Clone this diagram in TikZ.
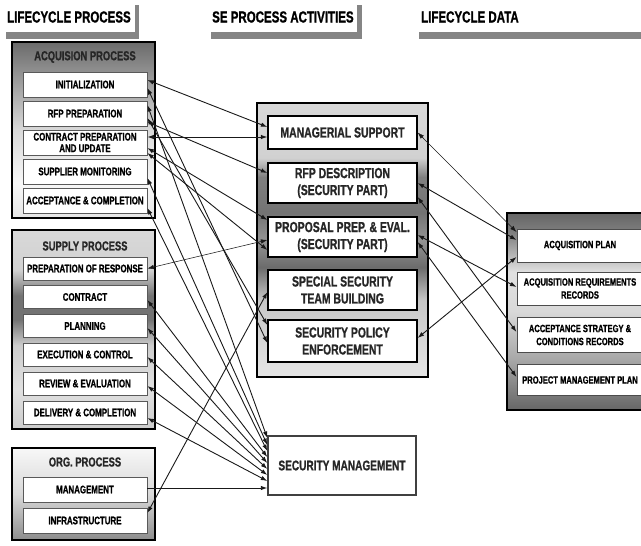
\documentclass[tikz,border=0pt]{standalone}
\usepackage{fontspec}
\usetikzlibrary{arrows.meta}
\newfontfamily\cf{Liberation Sans}[FakeStretch=0.72, BoldFeatures={FakeBold=1}]

% vertical gray shadings for the group panels (25bp = bottom edge, 75bp = top edge)
\pgfdeclareverticalshading{acqsh}{100bp}{rgb(0bp)=(.9,.9,.9); rgb(25bp)=(.9,.9,.9); rgb(35bp)=(.97,.97,.97); rgb(50bp)=(.85,.85,.85); rgb(67.5bp)=(.55,.55,.55); rgb(75bp)=(.42,.42,.42); rgb(100bp)=(.42,.42,.42)}
\pgfdeclareverticalshading{supsh}{100bp}{rgb(0bp)=(.8,.8,.8); rgb(25bp)=(.8,.8,.8); rgb(35bp)=(.88,.88,.88); rgb(46bp)=(.8,.8,.8); rgb(52.5bp)=(.45,.45,.45); rgb(58.5bp)=(.45,.45,.45); rgb(65bp)=(.82,.82,.82); rgb(75bp)=(.85,.85,.85); rgb(100bp)=(.85,.85,.85)}
\pgfdeclareverticalshading{orgsh}{100bp}{rgb(0bp)=(.55,.55,.55); rgb(25bp)=(.55,.55,.55); rgb(50bp)=(.85,.85,.85); rgb(75bp)=(.97,.97,.97); rgb(100bp)=(.97,.97,.97)}
\pgfdeclareverticalshading{midsh}{100bp}{rgb(0bp)=(.9,.9,.9); rgb(25bp)=(.9,.9,.9); rgb(39bp)=(.78,.78,.78); rgb(45bp)=(.42,.42,.42); rgb(50bp)=(.58,.58,.58); rgb(55bp)=(.45,.45,.45); rgb(61.5bp)=(.5,.5,.5); rgb(65bp)=(.82,.82,.82); rgb(75bp)=(.85,.85,.85); rgb(100bp)=(.85,.85,.85)}
\pgfdeclareverticalshading{datsh}{100bp}{rgb(0bp)=(.4,.4,.4); rgb(25bp)=(.4,.4,.4); rgb(37.5bp)=(.65,.65,.65); rgb(50bp)=(.85,.85,.85); rgb(60bp)=(.88,.88,.88); rgb(70bp)=(.5,.5,.5); rgb(75bp)=(.4,.4,.4); rgb(100bp)=(.4,.4,.4)}

\tikzset{
  grp/.style={draw=black, line width=2.4pt, shade, inner sep=0pt},
  lbox/.style={draw=black!65, line width=0.8pt, fill=white, minimum width=124pt,
    minimum height=25pt, inner sep=0pt, align=center,
    font=\cf\bfseries\fontsize{11}{11.5}\selectfont},
  mbox/.style={draw=black, line width=1.3pt, fill=white, minimum width=149pt,
    minimum height=40pt, inner sep=0pt, align=center, text=black!85,
    font=\cf\bfseries\fontsize{14.5}{17}\selectfont},
  rbox/.style={draw=black!70, line width=1pt, fill=white, minimum width=126pt,
    minimum height=33pt, inner sep=0pt, align=center,
    font=\cf\bfseries\fontsize{10.5}{13}\selectfont},
  gtitle/.style={font=\cf\bfseries\fontsize{13}{14}\selectfont, text=black!85},
  hdr/.style={anchor=west, inner sep=0pt, font=\cf\bfseries\fontsize{16}{18}\selectfont},
  hbar/.style={fill=black!48},
  link/.style={{Latex[length=6.5pt,width=4.5pt]}-{Latex[length=6.5pt,width=4.5pt]},
    line width=0.9pt, black!90},
  onelink/.style={-{Latex[length=6.5pt,width=4.5pt]}, line width=0.9pt, black!90},
  thinlink/.style={link, line width=0.55pt},
}

\begin{document}
\begin{tikzpicture}[x=1pt, y=-1pt]
\useasboundingbox (0,0) rectangle (641,546);
\clip (0,0) rectangle (641,546);

% column headers with their L-shaped underlines
\fill[hbar] (6,32) rectangle (139,39);
\fill[hbar] (135,5) rectangle (139,39);
\node[hdr] (h1) at (7,17) {LIFECYCLE PROCESS};
\fill[hbar] (211,32) rectangle (362,39);
\fill[hbar] (357,5) rectangle (362,39);
\node[hdr] (h2) at (212,17) {SE PROCESS ACTIVITIES};
\fill[hbar] (419,32) rectangle (650,39);
\node[hdr] (h3) at (421,17) {LIFECYCLE DATA};

% acquisition process
\node[grp, shading=acqsh, minimum width=143pt, minimum height=176pt] (acq) at (83.5,130) {};
\node[gtitle] (acqt) at (85,57) {ACQUISION PROCESS};
\node[lbox] (init) at (85,84.5) {INITIALIZATION};
\node[lbox] (rfpp) at (85,113.5) {RFP PREPARATION};
\node[lbox] (cprep) at (85,142.5) {CONTRACT PREPARATION\\AND UPDATE};
\node[lbox] (supmon) at (85,171.5) {SUPPLIER MONITORING};
\node[lbox] (accept) at (85,200.5) {ACCEPTANCE \& COMPLETION};

% supply process
\node[grp, shading=supsh, minimum width=143pt, minimum height=199pt] (sup) at (83.5,329.5) {};
\node[gtitle] (supt) at (85,246) {SUPPLY PROCESS};
\node[lbox, minimum height=23pt] (prep) at (85,268.5) {PREPARATION OF RESPONSE};
\node[lbox, minimum height=23pt] (contract) at (85,297) {CONTRACT};
\node[lbox, minimum height=23pt] (planning) at (85,326) {PLANNING};
\node[lbox, minimum height=23pt] (exec) at (85,354.5) {EXECUTION \& CONTROL};
\node[lbox, minimum height=23pt] (review) at (85,383.5) {REVIEW \& EVALUATION};
\node[lbox, minimum height=23pt] (delivery) at (85,412.5) {DELIVERY \& COMPLETION};

% organizational process
\node[grp, shading=orgsh, minimum width=143pt, minimum height=92pt] (org) at (83.5,494) {};
\node[gtitle] (orgt) at (85,462) {ORG. PROCESS};
\node[lbox] (mgmt) at (85,489.5) {MANAGEMENT};
\node[lbox] (infra) at (85,520.5) {INFRASTRUCTURE};

% SE process activities
\node[grp, shading=midsh, minimum width=171pt, minimum height=274pt] (mid) at (342.5,240) {};
\node[mbox, minimum height=33pt] (ms) at (342.5,132.5) {MANAGERIAL SUPPORT};
\node[mbox] (rfpd) at (342.5,183) {RFP DESCRIPTION\\(SECURITY PART)};
\node[mbox] (prop) at (342.5,237) {PROPOSAL PREP. \& EVAL.\\(SECURITY PART)};
\node[mbox] (team) at (342.5,290) {SPECIAL SECURITY\\TEAM BUILDING};
\node[mbox, minimum height=42pt] (policy) at (342.5,341) {SECURITY POLICY\\ENFORCEMENT};
\node[mbox, draw=black!75, line width=1.4pt, minimum width=148pt, minimum height=59pt,
  font=\cf\bfseries\fontsize{14}{16}\selectfont] (secm) at (342,465.5) {SECURITY MANAGEMENT};

% lifecycle data
\node[grp, shading=datsh, minimum width=153pt, minimum height=197pt] (dat) at (583.5,311.5) {};
\node[rbox] (acqplan) at (580,245.5) {ACQUISITION PLAN};
\node[rbox] (acqreq) at (580,288.5) {ACQUISITION REQUIREMENTS\\RECORDS};
\node[rbox, minimum height=35pt] (accstrat) at (580,335) {ACCEPTANCE STRATEGY \&\\CONDITIONS RECORDS};
\node[rbox, minimum height=31pt] (pmp) at (580,380) {PROJECT MANAGEMENT PLAN};

% links: lifecycle processes to SE activities
\draw[link] ([yshift=4.5pt]init.east) -- ([yshift=5.5pt]ms.west);
\draw[link] ([yshift=-3.5pt]init.east) -- ([yshift=-2pt]policy.west);
\draw[link] ([yshift=8.5pt]rfpp.east) -- ([yshift=27.5pt]secm.west);
\draw[link] ([yshift=-4.5pt]rfpp.east) -- ([yshift=16pt]policy.west);
\draw[link] ([yshift=-8.5pt]rfpp.east) -- ([yshift=10pt]rfpd.west);
\draw[link] ([yshift=5.5pt]cprep.east) -- ([yshift=-4.5pt]ms.west);
\draw[link] ([yshift=-5.5pt]cprep.east) -- ([yshift=17pt]prop.west);
\draw[link] ([yshift=-10.5pt]cprep.east) -- ([yshift=-13pt]prop.west);
\draw[link] ([yshift=-6.5pt]supmon.east) -- ([yshift=20.5pt]secm.west);
\draw[link] ([yshift=-7.5pt]accept.east) -- ([yshift=14.5pt]secm.west);
\draw[thinlink] (prep.east) -- ([yshift=-3pt]prop.west);
\draw[link] ([yshift=-3pt]contract.east) -- ([yshift=8.5pt]secm.west);
\draw[link] ([yshift=-2pt]planning.east) -- ([yshift=2.5pt]secm.west);
\draw[link] ([yshift=-2.5pt]exec.east) -- ([yshift=-3.5pt]secm.west);
\draw[link] ([yshift=-2.5pt]review.east) -- ([yshift=-9.5pt]secm.west);
\draw[link] ([yshift=-5.5pt]delivery.east) -- ([yshift=-15.5pt]secm.west);
\draw[onelink] ([yshift=1.5pt]mgmt.east) -- ([yshift=-22.5pt]secm.west);
\draw[link] ([yshift=7.5pt]infra.east) -- ([yshift=-2pt]team.west);

% links: SE activities to lifecycle data
\draw[thinlink] (ms.east) -- ([yshift=13.5pt]acqplan.west);
\draw[link] (rfpd.east) -- ([yshift=5.5pt]acqplan.west);
\draw[link] ([yshift=-14pt]rfpd.east) -- ([yshift=3pt]accstrat.west);
\draw[link] ([yshift=2pt]prop.east) -- ([yshift=1.5pt]acqreq.west);
\draw[link] ([yshift=-5pt]prop.east) -- ([yshift=3pt]pmp.west);
\draw[link] ([yshift=3pt]policy.east) -- ([yshift=-11.5pt]acqplan.west);
\end{tikzpicture}
\end{document}
